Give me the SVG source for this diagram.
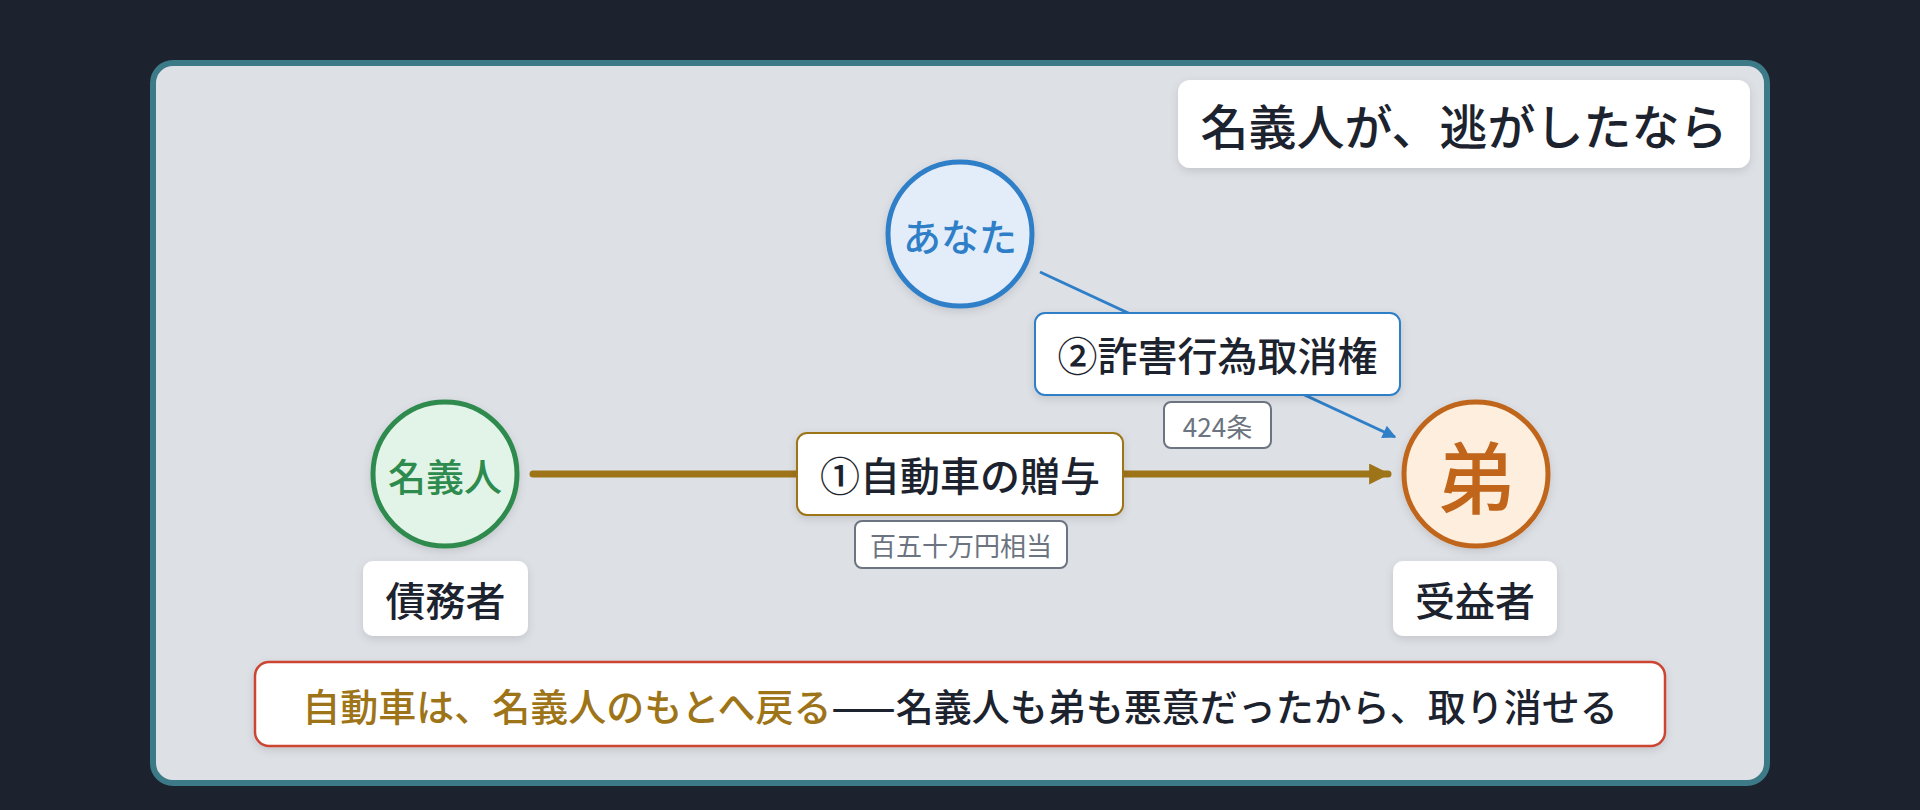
<svg xmlns="http://www.w3.org/2000/svg" width="1920" height="810" viewBox="0 0 1920 810">
<style>
text{font-family:"Noto Sans CJK JP","Noto Sans",sans-serif;text-anchor:middle;dominant-baseline:central}
.dark{fill:#1c232e}
.lbl{font-size:40px;font-weight:500}
.tag{font-size:26px;font-weight:400;fill:#6b7480}
.box{fill:#ffffff;filter:url(#sh)}
.tagbox{fill:#ffffff;stroke:#6b7480;stroke-width:2}
</style>
<defs>
<filter id="sh" x="-20%" y="-20%" width="140%" height="150%">
<feDropShadow dx="0" dy="3" stdDeviation="4" flood-color="#000000" flood-opacity="0.12"/>
</filter>
<marker id="ag" viewBox="0 0 10 10" refX="9" refY="5" markerWidth="3.2" markerHeight="3" orient="auto" markerUnits="strokeWidth">
<path d="M0,0 L10,5 L0,10 z" fill="#9e7418"/>
</marker>
<marker id="ab" viewBox="0 0 10 10" refX="9" refY="5" markerWidth="5" markerHeight="4.5" orient="auto" markerUnits="strokeWidth">
<path d="M0,0 L10,5 L0,10 z" fill="#2f7fc8"/>
</marker>
</defs>
<rect x="0" y="0" width="1920" height="810" fill="#1c232e"/>
<rect x="153" y="63" width="1614" height="720" rx="20" fill="#dde0e5" stroke="#3d7a88" stroke-width="6"/>

<g id="title">
<rect class="box" x="1178" y="80" width="572" height="88" rx="12"/>
<text class="dark" x="1464" y="124" font-size="48" font-weight="500">名義人が、逃がしたなら</text>
</g>

<g id="connectors">
<line x1="533" y1="474" x2="1388" y2="474" stroke="#9e7418" stroke-width="7" stroke-linecap="round" marker-end="url(#ag)"/>
<line x1="1040" y1="272" x2="1395" y2="437" stroke="#2f7fc8" stroke-width="3" marker-end="url(#ab)"/>
</g>

<g id="node-anata">
<circle cx="960" cy="234" r="72" fill="#e3edf9" stroke="#2f7fc8" stroke-width="5" filter="url(#sh)"/>
<text x="960" y="234" font-size="38" font-weight="500" fill="#2f7fc8">あなた</text>
</g>

<g id="node-meigi">
<circle cx="445" cy="474" r="72" fill="#e2f4e7" stroke="#2e8b4e" stroke-width="5" filter="url(#sh)"/>
<text x="445" y="474" font-size="38" font-weight="500" fill="#2e8b4e">名義人</text>
</g>

<g id="node-otouto">
<circle cx="1476" cy="474" r="72" fill="#fdeedd" stroke="#c0651a" stroke-width="5" filter="url(#sh)"/>
<text x="1476" y="474" font-size="78" font-weight="500" fill="#c0651a">弟</text>
</g>

<g id="role-saimusha">
<rect class="box" x="363" y="561" width="165" height="75" rx="10"/>
<text class="dark lbl" x="445.5" y="599">債務者</text>
</g>

<g id="role-jueki">
<rect class="box" x="1393" y="561" width="164" height="75" rx="10"/>
<text class="dark lbl" x="1475" y="599">受益者</text>
</g>

<g id="label-zoyo">
<rect class="box" x="797" y="433" width="326" height="82" rx="10" stroke="#9e7418" stroke-width="2"/>
<text class="dark lbl" x="960" y="474">①自動車の贈与</text>
<rect class="tagbox" x="855" y="521" width="212" height="47" rx="7"/>
<text class="tag" x="961" y="544.5">百五十万円相当</text>
</g>

<g id="label-sagai">
<rect class="box" x="1035" y="313" width="365" height="82" rx="10" stroke="#2f7fc8" stroke-width="2"/>
<text class="dark lbl" x="1217.5" y="354">②詐害行為取消権</text>
<rect class="tagbox" x="1164" y="402" width="107" height="46" rx="7"/>
<text class="tag" x="1217.5" y="425">424条</text>
</g>

<g id="conclusion">
<rect class="box" x="255" y="662" width="1410" height="84" rx="14" stroke="#cc4433" stroke-width="2.5"/>
<text x="960" y="704" font-size="38" font-weight="500"><tspan fill="#9e7418">自動車は、名義人のもとへ戻る</tspan><tspan fill="#1c232e">——名義人も弟も悪意だったから、取り消せる</tspan></text>
</g>
</svg>
